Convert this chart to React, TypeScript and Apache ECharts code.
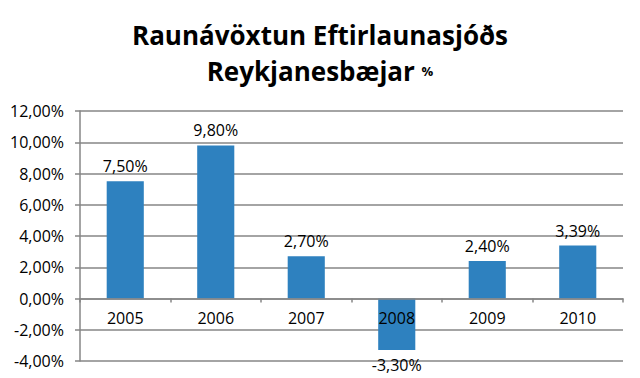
import React, { useEffect, useRef } from "react";
import * as echarts from "echarts";

const categories = ["2005", "2006", "2007", "2008", "2009", "2010"];
const values = [7.5, 9.8, 2.7, -3.3, 2.4, 3.39];
const yMin = -4;
const yMax = 12;
const yStep = 2;

const fmt = (v: number) => v.toFixed(2).replace(".", ",") + "%";
const FONT = "'Open Sans', sans-serif";

const GRID_TOP = 111;
const GRID_BOTTOM = 17;
const CHART_H = 378;

export default function App() {
  const ref = useRef<HTMLDivElement>(null);
  useEffect(() => {
    const chart = echarts.init(ref.current!, undefined, { renderer: "svg" });
    const plotH = CHART_H - GRID_TOP - GRID_BOTTOM;
    const zeroFromBottom = ((0 - yMin) / (yMax - yMin)) * plotH;
    chart.setOption({
      animation: false,
      backgroundColor: "#ffffff",
      title: {
        text: "Raunávöxtun Eftirlaunasjóðs\nReykjanesbæjar {s|%}",
        left: "center",
        top: 12,
        textStyle: {
          fontFamily: FONT,
          fontWeight: "bold",
          fontSize: 26,
          lineHeight: 36,
          color: "#000",
          rich: {
            s: { fontFamily: FONT, fontWeight: "bold", fontSize: 13, color: "#000", lineHeight: 36 },
          },
        },
      },
      grid: {
        left: 80,
        right: 17,
        top: GRID_TOP,
        bottom: GRID_BOTTOM,
        containLabel: false,
        outerBoundsMode: "none",
      },
      xAxis: {
        type: "category",
        data: categories,
        z: 5,
        offset: -zeroFromBottom,
        axisLine: { onZero: false, lineStyle: { color: "#868686", width: 1.5 } },
        axisTick: { show: true, length: 4, lineStyle: { color: "#868686", width: 1.5 } },
        axisLabel: { fontFamily: FONT, fontSize: 16, color: "#000", margin: 11 },
        splitLine: { show: false },
      },
      yAxis: {
        type: "value",
        min: yMin,
        max: yMax,
        interval: yStep,
        axisLine: { show: true, lineStyle: { color: "#868686", width: 1.5 } },
        axisTick: { show: true, length: 5, lineStyle: { color: "#868686", width: 1.5 } },
        axisLabel: { fontFamily: FONT, fontSize: 16, color: "#000", margin: 16, formatter: (v: number) => fmt(v) },
        splitLine: { show: true, lineStyle: { color: "#868686", width: 1.5 } },
      },
      series: [
        {
          type: "bar",
          z: 2,
          data: values.map((v) => ({
            value: v,
            label: { position: v < 0 ? "bottom" : "top" },
          })),
          barWidth: "41%",
          itemStyle: { color: "#2E81BF" },
          label: {
            show: true,
            fontFamily: FONT,
            fontSize: 16,
            color: "#000",
            distance: 7,
            formatter: (p: any) => fmt(p.value),
          },
        },
      ],
    });
    return () => chart.dispose();
  }, []);
  return <div ref={ref} style={{ width: 640, height: 378, position: "absolute", left: 0, top: 0 }} />;
}
